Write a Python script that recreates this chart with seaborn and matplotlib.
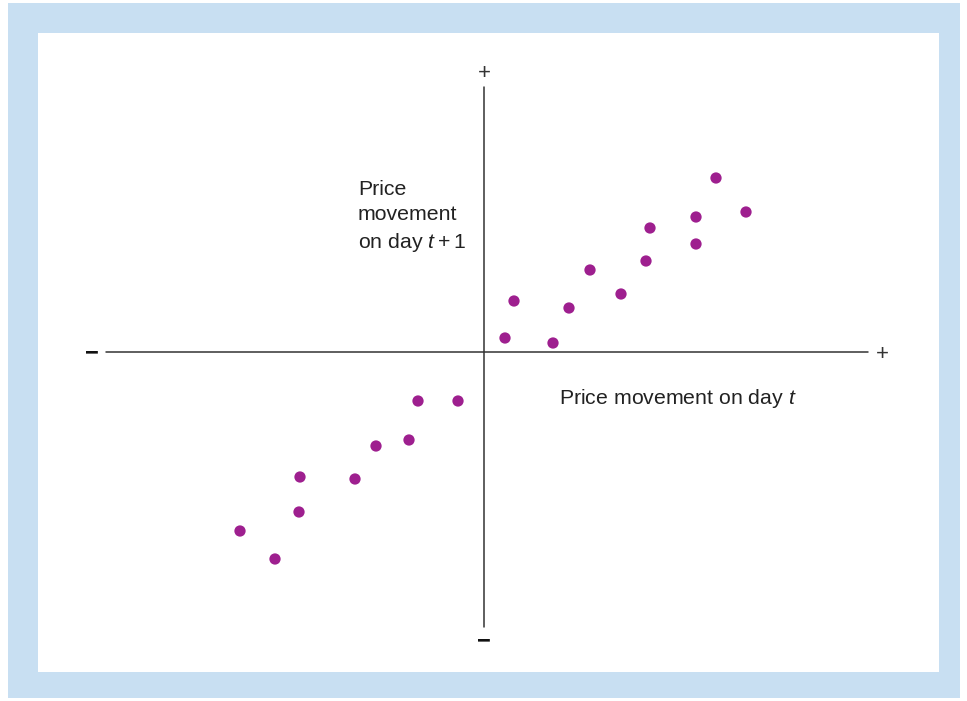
import numpy as np
import pandas as pd
import matplotlib
matplotlib.use("Agg")
import matplotlib.pyplot as plt
import seaborn as sns
from matplotlib.patches import Rectangle

# price movement on day t vs day t+1 (arbitrary units, origin at the cross)
move_t = [0.525, 0.75, 1.725, 2.125, 2.65, 3.425, 4.05, 4.15, 5.3, 5.3, 5.8, 6.55,
          -6.1, -5.225, -4.625, -4.6, -3.225, -2.7, -1.875, -1.65, -0.65]
move_t1 = [0.35, 1.275, 0.225, 1.1, 2.05, 1.45, 2.275, 3.1, 3.375, 2.7, 4.35, 3.5,
           -4.475, -5.175, -4.0, -3.125, -3.175, -2.35, -2.2, -1.225, -1.225]
x_label = "Price movement on day $t$"
y_label = "Price\nmovement\non day $t+1$"

df = pd.DataFrame({"t": move_t, "t1": move_t1})

sns.set_theme(style="white")
plt.rcParams["font.family"] = ["Liberation Sans", "DejaVu Sans"]
plt.rcParams["mathtext.fontset"] = "custom"
plt.rcParams["mathtext.rm"] = "Liberation Sans"
plt.rcParams["mathtext.it"] = "Liberation Sans:italic"

W, H = 967, 701
fig = plt.figure(figsize=(W / 100, H / 100), dpi=100)
fig.patch.set_facecolor("white")
# light blue frame and white panel
fig.add_artist(Rectangle((8 / W, 1 - 698 / H), (960 - 8) / W, (698 - 3) / H,
                         transform=fig.transFigure, facecolor="#c8dff2",
                         edgecolor="none", zorder=0))
fig.add_artist(Rectangle((38 / W, 1 - 672 / H), (939 - 38) / W, (672 - 33) / H,
                         transform=fig.transFigure, facecolor="white",
                         edgecolor="none", zorder=0.5))

ax = fig.add_axes([38 / W, 1 - 672 / H, (939 - 38) / W, (672 - 33) / H])
ax.set_zorder(2)

# cross axes
ax.plot([-9.45, 9.6], [0, 0], color="#333333", lw=1.1, zorder=1)
ax.plot([0, 0], [-6.875, 6.625], color="#333333", lw=1.1, zorder=1)

sns.scatterplot(data=df, x="t", y="t1", ax=ax, color="#9e1f8f", s=66,
                edgecolor="none", zorder=3)
ax.set_xlim(-11.15, 11.375)
ax.set_ylim(-8.0, 7.975)
ax.axis("off")

ax.text(0, 6.97, "+", ha="center", va="center", fontsize=16, color="#333333")
ax.text(9.95, -0.07, "+", ha="center", va="center", fontsize=16, color="#333333")
ax.text(-9.8, -0.02, "\u2212", ha="center", va="center", fontsize=17,
        fontweight="bold", color="#111111")
ax.text(0, -7.22, "\u2212", ha="center", va="center", fontsize=17,
        fontweight="bold", color="#111111")

ax.text(1.875, -1.17, x_label, ha="left", va="center", fontsize=15.3, color="#222222")
ax.text(-3.15, 4.3, y_label, ha="left", va="top", fontsize=15.3, color="#222222",
        linespacing=1.42)

fig.savefig("out.png", dpi=100, facecolor="white")
